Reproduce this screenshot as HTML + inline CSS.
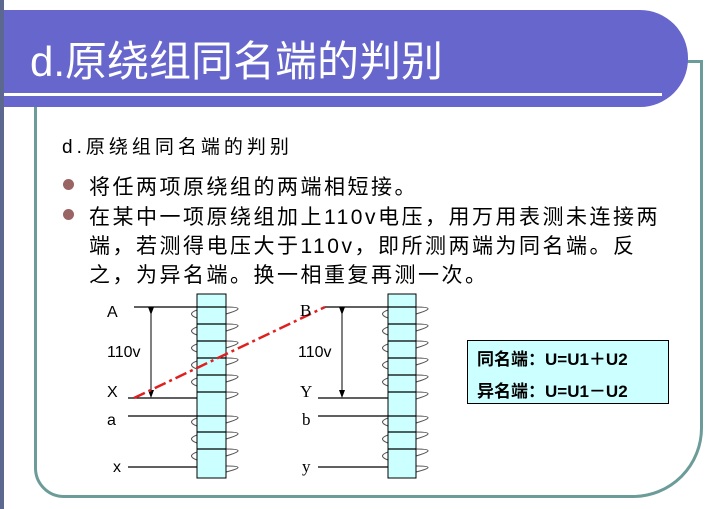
<!DOCTYPE html>
<html><head><meta charset="utf-8"><style>
body{margin:0;width:720px;height:509px;background:#fff;position:relative;overflow:hidden;font-family:"Liberation Sans","Noto Sans CJK SC",sans-serif}
.t{position:absolute;white-space:nowrap}
.l{font-size:21px;letter-spacing:2.5px;color:#000;left:89px}
.dot{position:absolute;left:63px;width:11px;height:11px;border-radius:50%;background:#9a6464}
</style></head><body>
<div style="position:absolute;left:0;top:0;width:4px;height:509px;background:#5c6890"></div>
<div style="position:absolute;left:34px;top:60px;width:663px;height:432px;border:3px solid #6b9c9a;border-radius:0 0 70px 30px"></div>
<div style="position:absolute;left:4px;top:10px;width:684px;height:97px;background:#6666cc;border-radius:0 48px 48px 0"></div>
<div style="position:absolute;left:4px;top:93px;width:658px;height:3px;background:#fff"></div>
<div class="t" style="left:30px;top:28px;font-size:42px;color:#fff">d.原绕组同名端的判别</div>
<div class="t" style="left:62px;top:132px;font-size:19px;letter-spacing:4px">d.原绕组同名端的判别</div>
<div class="dot" style="top:179px"></div>
<div class="dot" style="top:209px"></div>
<div class="t l" style="top:171px">将任两项原绕组的两端相短接。</div>
<div class="t l" style="top:201px">在某中一项原绕组加上110v电压，用万用表测未连接两</div>
<div class="t l" style="top:230px">端，若测得电压大于110v，即所测两端为同名端。反</div>
<div class="t l" style="top:259px">之，为异名端。换一相重复再测一次。</div>
<svg style="position:absolute;left:0;top:0" width="720" height="509">
<defs><marker id="ar" markerWidth="8" markerHeight="8" refX="4" refY="4" orient="auto"><path d="M0,1 L8,4 L0,7z" fill="#000"/></marker></defs>
<g fill="none" stroke="#555" stroke-width="1.1">
<path d="M197 318 Q186 314 197 310 M197 335 Q186 331 197 327 M197 352 Q186 348 197 344 M197 369 Q186 365 197 361 M197 386 Q186 382 197 378 M197 426 Q186 422 197 418 M197 443 Q186 439 197 435 M197 460 Q186 456 197 452"/>
<path d="M226 307 Q250 307 226 314 M226 324 Q250 324 226 331 M226 341 Q250 341 226 348 M226 358 Q250 358 226 365 M226 375 Q250 375 226 382 M226 392 Q250 392 226 399 M226 416 Q250 416 226 423 M226 432 Q250 432 226 439 M226 449 Q250 449 226 456 M226 466 Q250 466 226 472"/>
<path d="M388 318 Q377 314 388 310 M388 335 Q377 331 388 327 M388 352 Q377 348 388 344 M388 369 Q377 365 388 361 M388 386 Q377 382 388 378 M388 426 Q377 422 388 418 M388 443 Q377 439 388 435 M388 460 Q377 456 388 452"/>
<path d="M416 307 Q440 307 416 314 M416 324 Q440 324 416 331 M416 341 Q440 341 416 348 M416 358 Q440 358 416 365 M416 375 Q440 375 416 382 M416 392 Q440 392 416 399 M416 416 Q440 416 416 423 M416 432 Q440 432 416 439 M416 449 Q440 449 416 456 M416 466 Q440 466 416 472"/>
</g>
<rect x="197" y="294" width="29" height="184" fill="#ccffff" stroke="#000"/>
<rect x="388" y="294" width="28" height="184" fill="#ccffff" stroke="#000"/>
<g stroke="#000" stroke-width="1.2">
<line x1="134" y1="307" x2="226" y2="307"/><line x1="128" y1="398" x2="197" y2="398"/>
<line x1="128" y1="416" x2="226" y2="416"/><line x1="128" y1="467" x2="197" y2="467"/>
<line x1="325" y1="307" x2="416" y2="307"/><line x1="318" y1="398" x2="388" y2="398"/>
<line x1="318" y1="416" x2="416" y2="416"/><line x1="318" y1="467" x2="388" y2="467"/>
<line x1="197" y1="324" x2="226" y2="324"/><line x1="197" y1="341" x2="226" y2="341"/><line x1="197" y1="358" x2="226" y2="358"/><line x1="197" y1="375" x2="226" y2="375"/><line x1="197" y1="392" x2="226" y2="392"/>
<line x1="197" y1="432" x2="226" y2="432"/><line x1="197" y1="449" x2="226" y2="449"/>
<line x1="388" y1="324" x2="416" y2="324"/><line x1="388" y1="341" x2="416" y2="341"/><line x1="388" y1="358" x2="416" y2="358"/><line x1="388" y1="375" x2="416" y2="375"/><line x1="388" y1="392" x2="416" y2="392"/>
<line x1="388" y1="432" x2="416" y2="432"/><line x1="388" y1="449" x2="416" y2="449"/>
<line x1="151" y1="311" x2="151" y2="394" marker-start="url(#ar)" marker-end="url(#ar)" stroke-width="1"/>
<line x1="342" y1="311" x2="342" y2="394" marker-start="url(#ar)" marker-end="url(#ar)" stroke-width="1"/>
</g>
<line x1="134" y1="398" x2="325" y2="307" stroke="#e02020" stroke-width="2.5" stroke-dasharray="12,4,3,4"/>
<g font-family="Liberation Sans,sans-serif" font-size="16" fill="#000">
<text x="107" y="317">A</text><text x="107" y="357">110v</text><text x="107" y="397">X</text><text x="107" y="425">a</text><text x="113" y="472">x</text>
<text x="298" y="357">110v</text>
</g>
<g font-family="Liberation Serif,serif" font-size="17" fill="#000">
<text x="300" y="316">B</text><text x="300" y="397">Y</text><text x="302" y="425">b</text><text x="302" y="472">y</text>
</g>
</svg>
<div style="position:absolute;left:467px;top:340px;width:200px;height:62px;background:#ccffff;border:1px solid #000"></div>
<div class="t" style="left:477px;top:345px;font-size:17px;font-weight:bold">同名端：U=U1＋U2</div>
<div class="t" style="left:477px;top:377px;font-size:17px;font-weight:bold">异名端：U=U1－U2</div>
</body></html>
